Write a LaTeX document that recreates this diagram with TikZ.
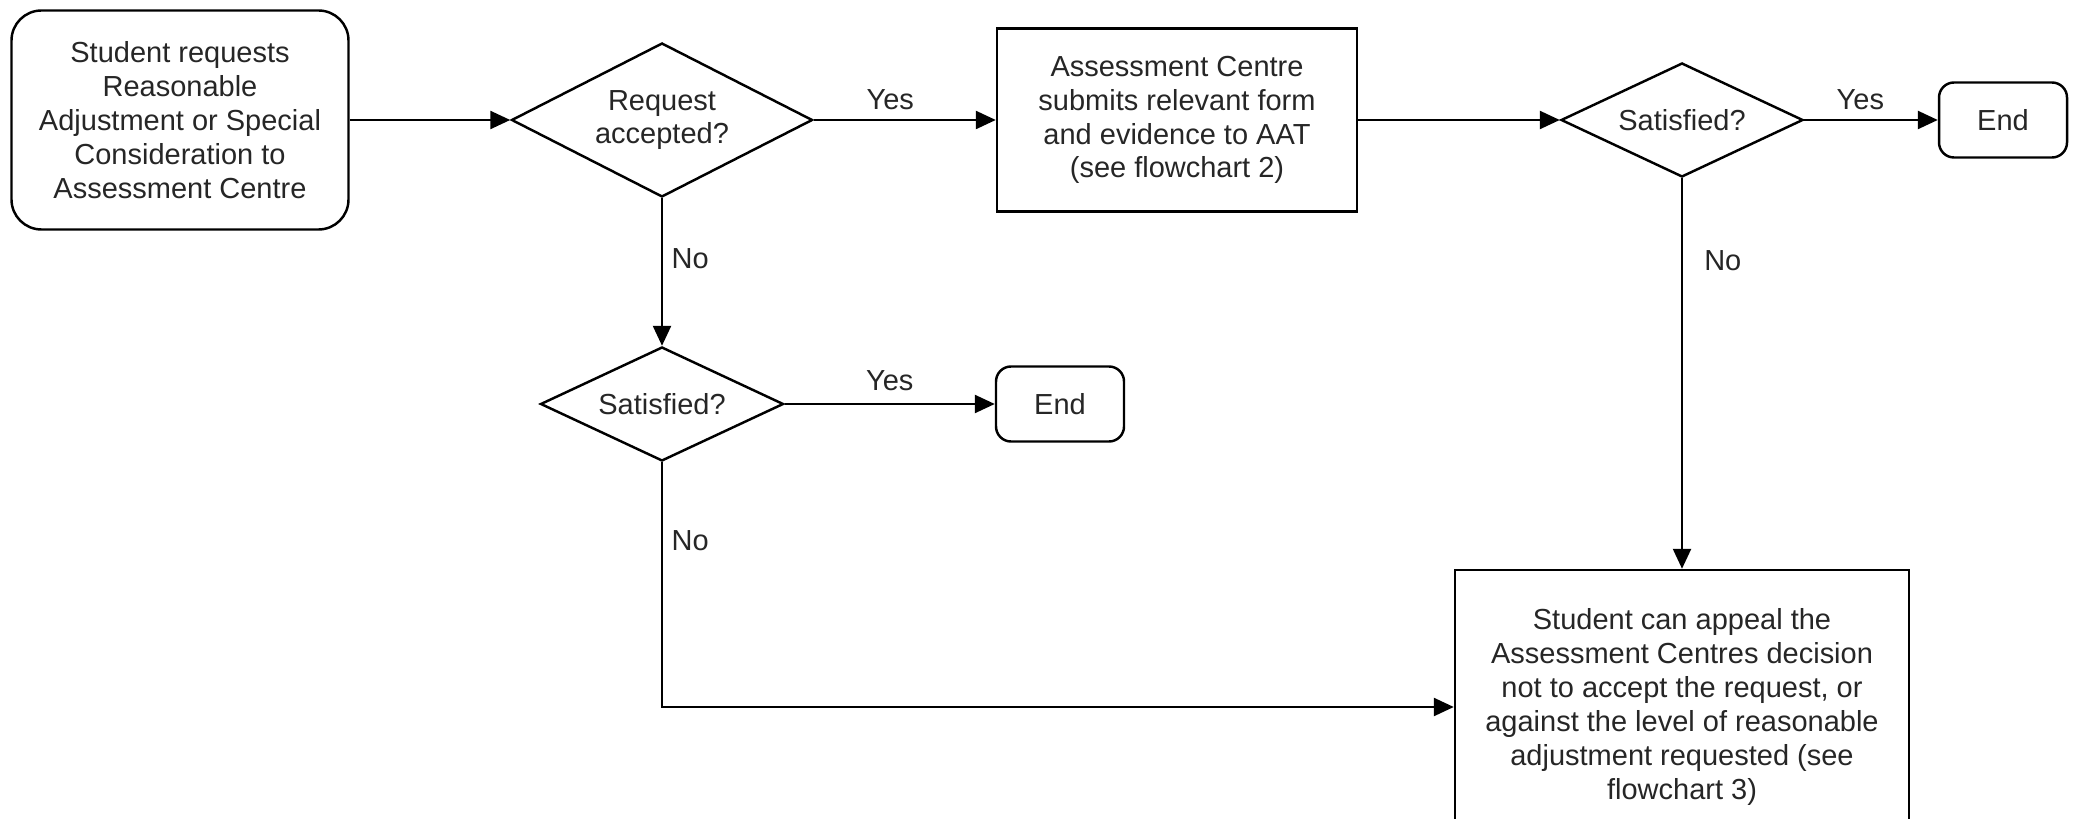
\documentclass[tikz,border=0pt]{standalone}
\usepackage{fontspec}
\setmainfont{Liberation Sans}
\usetikzlibrary{shapes.geometric,arrows.meta}

\begin{document}
\begin{tikzpicture}[
    every node/.style={font=\fontsize{16.5}{19.3}\selectfont, text=black!85},
    box/.style={draw=black, line width=1.4pt, align=center, inner sep=0pt},
    roundbox/.style={box, rounded corners=0.6cm},
    decision/.style={box, diamond, aspect=2},
    flow/.style={line width=1.4pt, -{Triangle[length=0.4cm,width=0.36cm]}},
    lbl/.style={inner sep=0.17cm}
  ]
  \useasboundingbox (0,0) rectangle (41.52,-16.38);

  \node[roundbox, minimum width=6.74cm, minimum height=4.38cm] (request)
    at (3.6,-2.4) {Student requests\\Reasonable\\Adjustment or Special\\
      Consideration to\\Assessment Centre};
  \node[decision, minimum width=6.02cm, minimum height=3.08cm] (accept)
    at (13.24,-2.4) {Request\\accepted?};
  \node[box, minimum width=7.2cm, minimum height=3.66cm] (submit)
    at (23.54,-2.4) {Assessment Centre\\submits relevant form\\
      and evidence to AAT\\(see flowchart 2)};
  \node[decision, minimum width=4.84cm, minimum height=2.28cm] (sat1)
    at (33.64,-2.4) {Satisfied?};
  \node[roundbox, rounded corners=0.3cm, minimum width=2.56cm,
    minimum height=1.5cm] (end1) at (40.06,-2.4) {End};

  \node[decision, minimum width=4.86cm, minimum height=2.28cm] (sat2)
    at (13.24,-8.08) {Satisfied?};
  \node[roundbox, rounded corners=0.3cm, minimum width=2.56cm,
    minimum height=1.5cm] (end2) at (21.2,-8.08) {End};

  \node[box, minimum width=9.08cm, minimum height=5.48cm] (appeal)
    at (33.64,-14.14) {Student can appeal the\\Assessment Centres decision\\
      not to accept the request, or\\against the level of reasonable\\
      adjustment requested (see\\flowchart 3)};

  \draw[flow] (request) -- (accept);
  \draw[flow] (accept) -- node[lbl, above, pos=0.42] (yes1) {Yes} (submit);
  \draw[flow] (submit) -- (sat1);
  \draw[flow] (sat1) -- node[lbl, above, pos=0.42] (yes2) {Yes} (end1);
  \draw[flow] (accept) -- node[lbl, anchor=west, pos=0.41] (no1) {No} (sat2);
  \draw[flow] (sat2) -- node[lbl, above=2pt] (yes3) {Yes} (end2);
  \draw[flow] (sat2) |- node[lbl, anchor=west, pos=0.16] (no2) {No} (appeal);
  \draw[flow] (sat1) -- node[lbl, anchor=west, pos=0.21, xshift=0.25cm]
    (no3) {No} (appeal);
\end{tikzpicture}
\end{document}
